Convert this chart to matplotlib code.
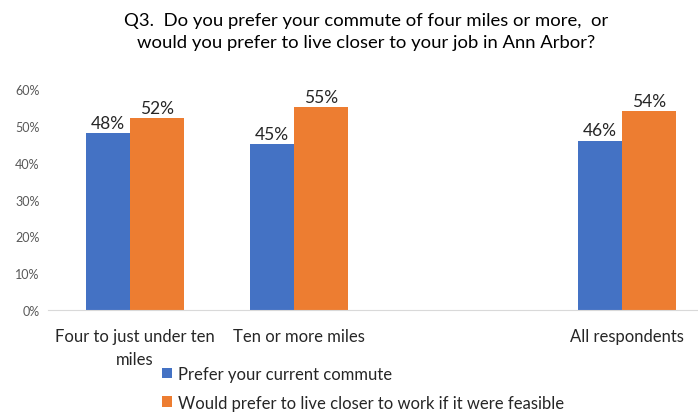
import numpy as np
import matplotlib.pyplot as plt
from matplotlib.ticker import PercentFormatter

plt.rcParams['font.family'] = ['Lato', 'DejaVu Sans']

# survey answers by commute distance (empty slot keeps the gap before "All respondents")
categories = ['Four to just under ten\nmiles', 'Ten or more miles', 'All respondents']
positions = [0, 1, 3]
current = [0.48, 0.45, 0.46]
closer = [0.52, 0.55, 0.54]
series_names = ['Prefer your current commute',
                'Would prefer to live closer to work if it were feasible']
title = 'Q3.  Do you prefer your commute of four miles or more,  or\nwould you prefer to live closer to your job in Ann Arbor?'

blue = '#4472C4'
orange = '#ED7D31'

fig = plt.figure(figsize=(6.98, 4.14), dpi=100)
ax = fig.add_axes([48 / 698, 103 / 414, 656 / 698, 221 / 414])

x = np.array(positions, dtype=float)
b1 = ax.bar(x, current, width=-0.27, align='edge', color=blue, label=series_names[0])
b2 = ax.bar(x, closer, width=0.33, align='edge', color=orange, label=series_names[1])

for bars, vals in ((b1, current), (b2, closer)):
    for r, v in zip(bars, vals):
        ax.text(r.get_x() + r.get_width() / 2, v + 0.006, f'{v:.0%}',
                ha='center', va='bottom', fontsize=12.5, color='#262626')

ax.set_xlim(-0.5, 3.5)
ax.set_ylim(0, 0.6)
ax.set_yticks(np.arange(0, 0.61, 0.1))
ax.yaxis.set_major_formatter(PercentFormatter(1.0, decimals=0))
ax.tick_params(axis='y', length=0, labelsize=9, labelcolor='#595959', pad=6)
ax.set_xticks(x + 0.03)
ax.set_xticklabels(categories, fontsize=12, color='#262626', linespacing=1.5)
ax.tick_params(axis='x', length=0, pad=13)

for s in ('top', 'right', 'left'):
    ax.spines[s].set_visible(False)
ax.spines['bottom'].set_color('#D9D9D9')

fig.text(0.525, 0.968, title, ha='center', va='top', fontsize=13.3,
         color='#000000', linespacing=1.45)

fig.legend(handles=[b1, b2], loc='upper left', bbox_to_anchor=(162 / 698, 1 - 367 / 414),
           frameon=False, fontsize=12, handlelength=0.6, handleheight=0.6,
           handletextpad=0.35, labelspacing=0.75, borderpad=0, borderaxespad=0,
           labelcolor='#262626')

fig.savefig('out.png', dpi=100)
